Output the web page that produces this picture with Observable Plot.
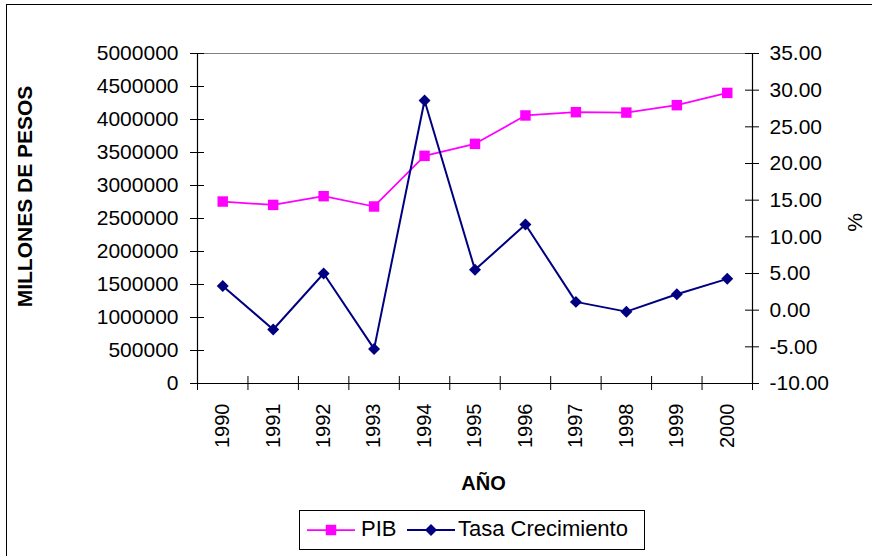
<!DOCTYPE html>
<html>
<head>
<meta charset="utf-8">
<script src="https://cdn.jsdelivr.net/npm/d3@7"></script>
<script src="https://cdn.jsdelivr.net/npm/@observablehq/plot@0.6"></script>
<style>
  html, body { margin: 0; padding: 0; background: #fff; overflow: hidden; }
  #wrap { position: relative; width: 872px; height: 556px; overflow: hidden; font-family: "Liberation Sans", Arial, sans-serif; }
  #frame { position: absolute; left: 6px; top: 4px; width: 900px; height: 600px; border-left: 1.5px solid #000; border-top: 1.5px solid #000; box-sizing: border-box; }
  #chart { position: absolute; left: 0; top: 0; }
  #legend { position: absolute; left: 0; top: 0; }
</style>
</head>
<body>
<div id="wrap">
  <div id="frame"></div>
  <div id="chart"></div>
  <svg id="legend" width="872" height="556"></svg>
</div>
<script>
// ---- data ----
const years = [1990, 1991, 1992, 1993, 1994, 1995, 1996, 1997, 1998, 1999, 2000];
const pib   = [2757000, 2706000, 2838000, 2682000, 3449000, 3631000, 4061000, 4111000, 4105000, 4217000, 4403000];
const tasa  = [3.31, -2.64, 5.0, -5.28, 28.59, 5.5, 11.68, 1.13, -0.2, 2.18, 4.27];
const leftTicks = [0, 500000, 1000000, 1500000, 2000000, 2500000, 3000000, 3500000, 4000000, 4500000, 5000000];
const pctTicks  = [-10, -5, 0, 5, 10, 15, 20, 25, 30, 35];
const seriesNames = ["PIB", "Tasa Crecimiento"];
const colors = ["#FF00FF", "#000080"];

// ---- layout ----
const W = 872, H = 556;
const mL = 197, mR = 120, mT = 53, mB = 173;
const fw = W - mL - mR, fh = H - mT - mB;
const font = '"Liberation Sans", Arial, sans-serif';

const yMax = leftTicks[leftTicks.length - 1];
const pMin = pctTicks[0], pMax = pctTicks[pctTicks.length - 1];
const toLeft = p => (p - pMin) / (pMax - pMin) * yMax;
const fromLeft = v => v / yMax * (pMax - pMin) + pMin;

const rows = years.map((yr, i) => ({year: yr, pib: pib[i], tasa: toLeft(tasa[i])}));
const bounds = years.map(y => y - 0.5).concat([years[years.length - 1] + 0.5]);

const chart = Plot.plot({
  width: W, height: H,
  marginLeft: mL, marginRight: mR, marginTop: mT, marginBottom: mB,
  style: {fontFamily: font, fontSize: "21px", color: "#000", background: "transparent", overflow: "visible"},
  x: {domain: [bounds[0], bounds[bounds.length - 1]], axis: null},
  y: {domain: [0, yMax], axis: null},
  marks: [
    Plot.ruleY([yMax], {stroke: "#808080", strokeWidth: 1}),
    Plot.ruleX([bounds[0]], {stroke: "#000", strokeWidth: 1.2}),
    Plot.ruleX([bounds[bounds.length - 1]], {stroke: "#000", strokeWidth: 1.2}),
    Plot.ruleY([0], {stroke: "#000", strokeWidth: 1.2}),
    Plot.tickY(leftTicks, {y: d => d, insetLeft: -7, insetRight: fw - 7, stroke: "#000"}),
    Plot.tickY(pctTicks.map(toLeft), {y: d => d, insetLeft: fw - 7, insetRight: -7, stroke: "#000"}),
    Plot.tickX(bounds, {x: d => d, insetTop: fh - 7, insetBottom: -7, stroke: "#000"}),
    Plot.axisY(leftTicks, {anchor: "left", tickSize: 0, tickPadding: 19, tickFormat: d => String(d), label: null, fontSize: 21}),
    Plot.axisY(pctTicks.map(toLeft), {anchor: "right", tickSize: 0, tickPadding: 17,
      tickFormat: d => (Math.round(fromLeft(d) * 100) / 100).toFixed(2), label: null, fontSize: 21}),
    Plot.axisX(years, {anchor: "bottom", tickSize: 0, tickPadding: 20, tickRotate: -90,
      tickFormat: d => String(d), label: null, fontSize: 20}),
    Plot.line(rows, {x: "year", y: "pib", stroke: colors[0], strokeWidth: 1.75}),
    Plot.dot(rows, {x: "year", y: "pib", symbol: "square", fill: colors[0], r: 5.9}),
    Plot.line(rows, {x: "year", y: "tasa", stroke: colors[1], strokeWidth: 2}),
    Plot.dot(rows, {x: "year", y: "tasa", symbol: "diamond2", fill: colors[1], r: 5.4}),
    Plot.text(["AÑO"], {text: d => d, frameAnchor: "bottom", dx: 8.5, dy: 100.5, lineAnchor: "middle",
      fontWeight: "bold", fontSize: 20}),
    Plot.text(["MILLONES DE PESOS"], {text: d => d, frameAnchor: "left", dx: -172, dy: -22, rotate: -90,
      lineAnchor: "middle", textAnchor: "middle", fontWeight: "bold", fontSize: 21}),
    Plot.text(["%"], {text: d => d, frameAnchor: "right", dx: 103, dy: 4, rotate: -90,
      lineAnchor: "middle", textAnchor: "middle", fontSize: 21})
  ]
});
document.getElementById("chart").appendChild(chart);

// ---- legend ----
const lg = d3.select("#legend");
lg.append("rect").attr("x", 299.5).attr("y", 510.5).attr("width", 345).attr("height", 39)
  .attr("fill", "#fff").attr("stroke", "#000").attr("stroke-width", 1);
const items = [
  {name: seriesNames[0], color: colors[0], x0: 307, sym: d3.symbolSquare, size: Math.PI * 5.9 * 5.9, tx: 361},
  {name: seriesNames[1], color: colors[1], x0: 407, sym: d3.symbolDiamond2, size: Math.PI * 5.4 * 5.4, tx: 458}
];
items.forEach(it => {
  lg.append("line").attr("x1", it.x0).attr("x2", it.x0 + 48).attr("y1", 530).attr("y2", 530)
    .attr("stroke", it.color).attr("stroke-width", it === items[0] ? 1.75 : 2);
  lg.append("path").attr("d", d3.symbol(it.sym, it.size)()).attr("transform", `translate(${it.x0 + 24},530)`)
    .attr("fill", it.color);
  lg.append("text").attr("x", it.tx).attr("y", 535.5).attr("font-family", font).attr("font-size", 22)
    .attr("fill", "#000").text(it.name);
});
</script>
</body>
</html>
